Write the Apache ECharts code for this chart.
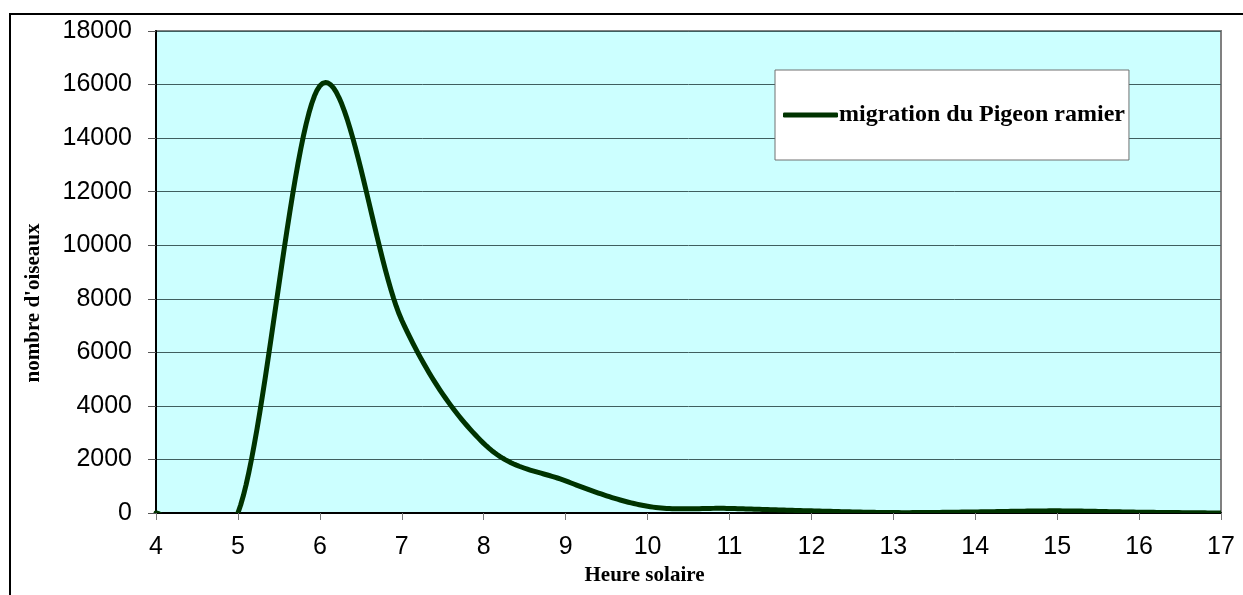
<!DOCTYPE html>
<html>
<head>
<meta charset="utf-8">
<script src="https://cdn.jsdelivr.net/npm/echarts@6/dist/echarts.min.js"></script>
<style>
  html, body { margin: 0; padding: 0; background: #fff; }
  #chart { width: 1243px; height: 595px; }
</style>
</head>
<body>
<div id="chart"></div>
<script>
// heure solaire
const hours = [4, 5, 6, 7, 8, 9, 10, 11, 12, 13, 14, 15, 16, 17]
// nombre d'oiseaux par heure
const birds = [0, 0, 15950, 7200, 2600, 1200, 250, 170, 80, 15, 40, 80, 30, 0]
const seriesName = 'migration du Pigeon ramier'
const lineColor = '#003300'

// spreadsheet-style smoothed line (Catmull-Rom through the points, in pixels)
function smoothPoints (pts, steps) {
  const out = []
  for (let i = 0; i < pts.length - 1; i++) {
    const p0 = pts[Math.max(i - 1, 0)]
    const p1 = pts[i]
    const p2 = pts[i + 1]
    const p3 = pts[Math.min(i + 2, pts.length - 1)]
    const c1 = [p1[0] + (p2[0] - p0[0]) / 6, p1[1] + (p2[1] - p0[1]) / 6]
    const c2 = [p2[0] - (p3[0] - p1[0]) / 6, p2[1] - (p3[1] - p1[1]) / 6]
    for (let s = 0; s < steps; s++) {
      const t = s / steps
      const u = 1 - t
      out.push([
        u * u * u * p1[0] + 3 * u * u * t * c1[0] + 3 * u * t * t * c2[0] + t * t * t * p2[0],
        u * u * u * p1[1] + 3 * u * u * t * c1[1] + 3 * u * t * t * c2[1] + t * t * t * p2[1]
      ])
    }
  }
  out.push(pts[pts.length - 1])
  return out
}

function renderCurve (params, api) {
  if (params.dataIndex !== 0) return null
  const pts = hours.map((h, i) => api.coord([h, birds[i]]))
  const cs = params.coordSys
  return {
    type: 'group',
    children: [{
      type: 'polyline',
      shape: { points: smoothPoints(pts, 30) },
      style: { stroke: lineColor, lineWidth: 5, fill: null, lineJoin: 'round', lineCap: 'round' }
    }],
    clipPath: {
      type: 'rect',
      shape: { x: cs.x - 3, y: cs.y, width: cs.width + 3, height: cs.height }
    }
  }
}

const chart = echarts.init(document.getElementById('chart'))

chart.setOption({
  animation: false,
  grid: {
    left: 156,
    right: 22,
    top: 31,
    bottom: 82,
    show: true,
    backgroundColor: '#ccffff',
    borderColor: '#808080',
    borderWidth: 2
  },
  legend: {
    data: [seriesName],
    left: 775,
    top: 70,
    backgroundColor: '#fff',
    borderColor: '#707070',
    borderWidth: 1,
    borderRadius: 0,
    padding: [33, 4, 33, 8],
    itemWidth: 55,
    itemHeight: 5,
    itemGap: 0,
    icon: 'roundRect',
    itemStyle: { color: lineColor },
    textStyle: {
      fontFamily: 'Liberation Serif',
      fontWeight: 'bold',
      fontSize: 24,
      color: '#000',
      padding: [0, 0, 0, -4]
    }
  },
  xAxis: {
    type: 'value',
    min: 4,
    max: 17,
    interval: 1,
    name: 'Heure solaire',
    nameLocation: 'middle',
    nameGap: 52,
    nameTextStyle: {
      fontFamily: 'Liberation Serif',
      fontWeight: 'bold',
      fontSize: 21,
      color: '#000',
      padding: [0, 88, 0, 0]
    },
    axisLine: { onZero: false, lineStyle: { color: '#000', width: 2 } },
    axisTick: { show: true, length: 7, lineStyle: { color: '#777' } },
    axisLabel: {
      margin: 22,
      fontFamily: 'Liberation Sans',
      fontSize: 25,
      color: '#000'
    },
    splitLine: { show: false }
  },
  yAxis: {
    type: 'value',
    min: 0,
    max: 18000,
    interval: 2000,
    name: "nombre d'oiseaux",
    nameLocation: 'middle',
    nameGap: 112,
    nameRotate: 90,
    nameTextStyle: {
      fontFamily: 'Liberation Serif',
      fontWeight: 'bold',
      fontSize: 21,
      color: '#000',
      padding: [0, 62, 0, 0]
    },
    axisLine: { show: true, lineStyle: { color: '#000', width: 2 } },
    axisTick: { show: true, length: 8, lineStyle: { color: '#555' } },
    axisLabel: {
      margin: 24,
      fontFamily: 'Liberation Sans',
      fontSize: 25,
      color: '#000',
      formatter: v => String(v)
    },
    splitLine: { show: true, lineStyle: { color: '#3f5f5f', width: 1 } }
  },
  graphic: [
    {
      type: 'rect',
      silent: true,
      shape: { x: 10, y: 14, width: 1400, height: 700 },
      style: { fill: 'none', stroke: '#000', lineWidth: 2 }
    }
  ],
  series: [
    {
      name: seriesName,
      type: 'custom',
      data: hours.map((h, i) => [h, birds[i]]),
      encode: { x: 0, y: 1 },
      renderItem: renderCurve,
      itemStyle: { color: lineColor },
      z: 3
    }
  ]
})
</script>
</body>
</html>
